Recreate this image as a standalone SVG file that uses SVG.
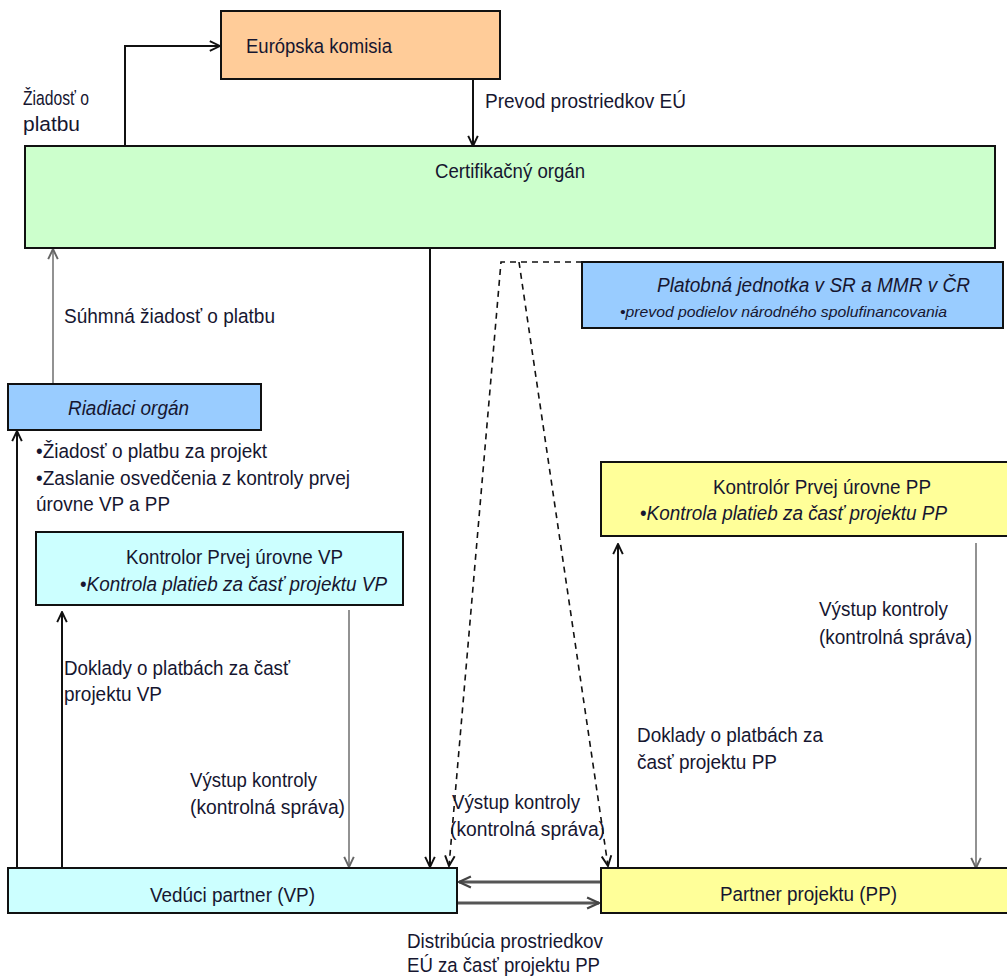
<svg xmlns="http://www.w3.org/2000/svg" width="1007" height="977" viewBox="0 0 1007 977">
<style>
text{font-family:"Liberation Sans",Arial,sans-serif;font-size:20.5px;fill:#161630}
.it{font-style:italic}
.sm{font-size:15px}
.box{stroke:#111;stroke-width:2}
.c{fill:none;stroke:#111;stroke-width:2}
.g{fill:none;stroke:#777;stroke-width:1.6}
.g2{fill:none;stroke:#555;stroke-width:3}
.d{fill:none;stroke:#111;stroke-width:1.6;stroke-dasharray:6 5}
</style>
<defs>
<marker id="aB" viewBox="0 0 10 10" refX="9.5" refY="5" markerWidth="12" markerHeight="12" markerUnits="userSpaceOnUse" orient="auto"><path d="M1,1 L9.5,5 L1,9" fill="none" stroke="#111" stroke-width="1.6"/></marker>
<marker id="aG" viewBox="0 0 10 10" refX="9.5" refY="5" markerWidth="12" markerHeight="12" markerUnits="userSpaceOnUse" orient="auto"><path d="M1,1 L9.5,5 L1,9" fill="none" stroke="#666" stroke-width="1.6"/></marker>
<marker id="aD" viewBox="0 0 10 10" refX="9.5" refY="5" markerWidth="14" markerHeight="14" markerUnits="userSpaceOnUse" orient="auto"><path d="M1,1 L9.5,5 L1,9" fill="none" stroke="#444" stroke-width="1.6"/></marker>
</defs>

<g id="connectors">
<polyline class="c" points="125,146 125,46 220,46" marker-end="url(#aB)"/>
<line class="c" x1="473" y1="80" x2="473" y2="146" stroke-width="1.6" marker-end="url(#aB)"/>
<line class="g" x1="53" y1="383" x2="53" y2="249" marker-end="url(#aG)"/>
<line class="c" x1="17" y1="867" x2="17" y2="431" marker-end="url(#aB)"/>
<line class="c" x1="62" y1="867" x2="62" y2="612" stroke-width="1.6" marker-end="url(#aB)"/>
<line class="g" x1="349" y1="610" x2="349" y2="867" marker-end="url(#aG)"/>
<line class="c" x1="430" y1="249" x2="430" y2="867" marker-end="url(#aB)"/>
<path class="d" d="M582,262 H501 L449,866" marker-end="url(#aB)"/>
<path class="d" d="M519,262 L608,866" marker-end="url(#aB)"/>
<line class="c" x1="618" y1="868" x2="618" y2="544" marker-end="url(#aB)"/>
<line class="g" x1="976" y1="543" x2="976" y2="868" stroke-width="2" marker-end="url(#aG)"/>
<line class="g2" x1="600" y1="882" x2="459" y2="882" marker-end="url(#aD)"/>
<line class="g2" x1="458" y1="903" x2="599" y2="903" marker-end="url(#aD)"/>
</g>

<g id="ek">
<rect class="box" x="221" y="11" width="279" height="68" fill="#FFCC99"/>
<text x="246" y="53" textLength="146" lengthAdjust="spacingAndGlyphs">Európska komisia</text>
</g>

<g id="cert">
<rect class="box" x="25" y="146" width="970" height="102" fill="#CCFFCC"/>
<text x="435" y="178" textLength="150" lengthAdjust="spacingAndGlyphs">Certifikačný orgán</text>
</g>

<g id="platobna">
<rect class="box" x="582" y="262" width="421" height="66" fill="#99CCFF"/>
<text class="it" x="657" y="292" textLength="313" lengthAdjust="spacingAndGlyphs">Platobná jednotka v SR a MMR v ČR</text>
<text class="it sm" x="620" y="317" textLength="327" lengthAdjust="spacingAndGlyphs">•prevod podielov národného spolufinancovania</text>
</g>

<g id="riadiaci">
<rect class="box" x="8" y="384" width="253" height="46" fill="#99CCFF"/>
<text class="it" x="68" y="415" textLength="121" lengthAdjust="spacingAndGlyphs">Riadiaci orgán</text>
</g>

<g id="kontrolor-vp">
<rect class="box" x="36" y="532" width="367" height="73" fill="#CCFFFF"/>
<text x="126" y="564" textLength="217" lengthAdjust="spacingAndGlyphs">Kontrolor Prvej úrovne VP</text>
<text x="80" y="591" textLength="307" lengthAdjust="spacingAndGlyphs">•<tspan class="it">Kontrola platieb za časť projektu VP</tspan></text>
</g>

<g id="kontrolor-pp">
<rect class="box" x="601" y="462" width="410" height="74" fill="#FFFF99"/>
<text x="713" y="494" textLength="218" lengthAdjust="spacingAndGlyphs">Kontrolór Prvej úrovne PP</text>
<text x="640" y="520" textLength="307" lengthAdjust="spacingAndGlyphs">•<tspan class="it">Kontrola platieb za časť projektu PP</tspan></text>
</g>

<g id="vp">
<rect class="box" x="8" y="868" width="449" height="45" fill="#CCFFFF"/>
<text x="150" y="902" textLength="165" lengthAdjust="spacingAndGlyphs">Vedúci partner (VP)</text>
</g>

<g id="pp">
<rect class="box" x="601" y="868" width="410" height="45" fill="#FFFF99"/>
<text x="720" y="901" textLength="177" lengthAdjust="spacingAndGlyphs">Partner projektu (PP)</text>
</g>

<g id="labels">
<text x="23" y="105" textLength="66" lengthAdjust="spacingAndGlyphs">Žiadosť o</text>
<text x="23" y="131" textLength="57" lengthAdjust="spacingAndGlyphs">platbu</text>
<text x="485" y="108" textLength="201" lengthAdjust="spacingAndGlyphs">Prevod prostriedkov EÚ</text>
<text x="64" y="323" textLength="211" lengthAdjust="spacingAndGlyphs">Súhmná žiadosť o platbu</text>
<text x="36" y="458" textLength="231" lengthAdjust="spacingAndGlyphs">•Žiadosť o platbu za projekt</text>
<text x="36" y="485" textLength="314" lengthAdjust="spacingAndGlyphs">•Zaslanie osvedčenia z kontroly prvej</text>
<text x="36" y="511" textLength="134" lengthAdjust="spacingAndGlyphs">úrovne VP a PP</text>
<text x="64" y="675" textLength="226" lengthAdjust="spacingAndGlyphs">Doklady o platbách za časť</text>
<text x="64" y="701" textLength="98" lengthAdjust="spacingAndGlyphs">projektu VP</text>
<text x="190" y="787" textLength="127" lengthAdjust="spacingAndGlyphs">Výstup kontroly</text>
<text x="190" y="814" textLength="155" lengthAdjust="spacingAndGlyphs">(kontrolná správa)</text>
<text x="452" y="809" textLength="128" lengthAdjust="spacingAndGlyphs">Výstup kontroly</text>
<text x="450" y="836" textLength="155" lengthAdjust="spacingAndGlyphs">(kontrolná správa)</text>
<text x="819" y="616" textLength="129" lengthAdjust="spacingAndGlyphs">Výstup kontroly</text>
<text x="819" y="644" textLength="153" lengthAdjust="spacingAndGlyphs">(kontrolná správa)</text>
<text x="637" y="742" textLength="186" lengthAdjust="spacingAndGlyphs">Doklady o platbách za</text>
<text x="637" y="769" textLength="140" lengthAdjust="spacingAndGlyphs">časť projektu PP</text>
<text x="407" y="948" textLength="196" lengthAdjust="spacingAndGlyphs">Distribúcia prostriedkov</text>
<text x="407" y="972" textLength="193" lengthAdjust="spacingAndGlyphs">EÚ za časť projektu PP</text>
</g>
</svg>
